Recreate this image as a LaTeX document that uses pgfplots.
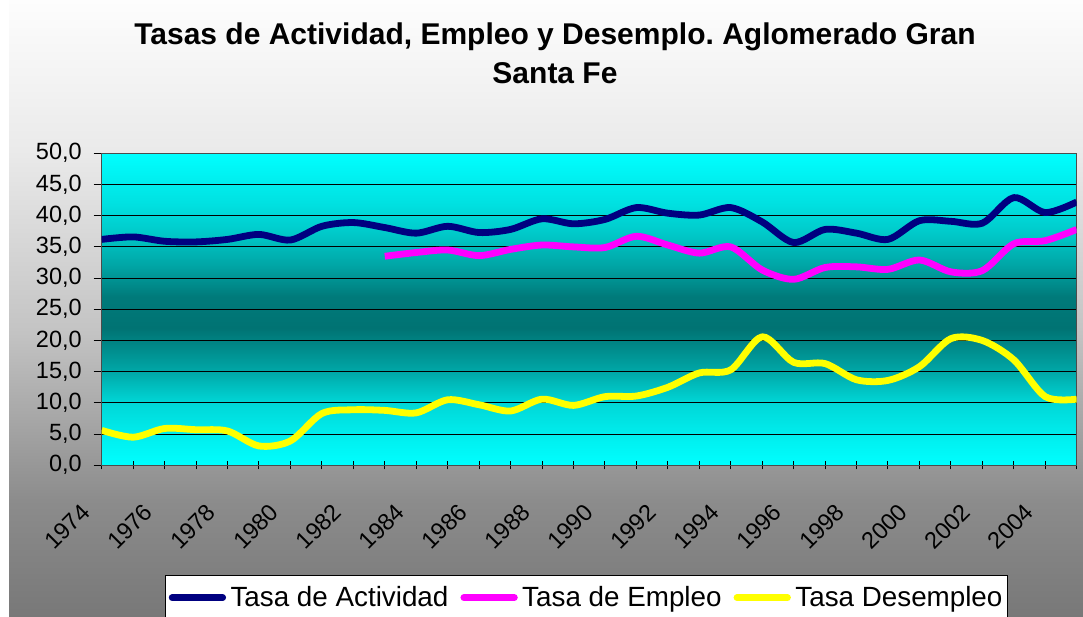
\documentclass[border=0pt]{standalone}
\usepackage{fontspec}
\setmainfont{Liberation Sans}
\usepackage{pgfplots}
\pgfplotsset{compat=1.18}
\frenchspacing
\definecolor{actcol}{RGB}{0,0,128}
\definecolor{empcol}{RGB}{255,0,255}
\definecolor{descol}{RGB}{255,255,0}
\definecolor{pb0}{RGB}{0,255,255}
\definecolor{pb5}{RGB}{0,237,237}
\definecolor{pb10}{RGB}{0,215,215}
\definecolor{pb15}{RGB}{0,168,168}
\definecolor{pb22}{RGB}{0,115,115}
\definecolor{pb27}{RGB}{0,122,122}
\definecolor{pb32}{RGB}{0,165,165}
\definecolor{pb37}{RGB}{0,200,200}
\definecolor{pb42}{RGB}{0,225,225}
\definecolor{pb50}{RGB}{0,255,255}
\pgfdeclareverticalshading{plotbg}{100bp}{color(0bp)=(pb0); color(25bp)=(pb0); color(30bp)=(pb5); color(35bp)=(pb10); color(40bp)=(pb15); color(47bp)=(pb22); color(52bp)=(pb27); color(57bp)=(pb32); color(62bp)=(pb37); color(67bp)=(pb42); color(75bp)=(pb50); color(100bp)=(pb50)}
\definecolor{fg0}{RGB}{120,120,120}
\definecolor{fg1}{RGB}{140,140,140}
\definecolor{fg2}{RGB}{196,196,196}
\definecolor{fg3}{RGB}{234,234,234}
\definecolor{fg4}{RGB}{253,253,253}
\pgfdeclareverticalshading{figbg}{100bp}{color(0bp)=(fg0); color(25bp)=(fg0); color(34.5bp)=(fg1); color(48.3bp)=(fg2); color(62.8bp)=(fg3); color(75bp)=(fg4); color(100bp)=(fg4)}
\begin{document}
\begin{tikzpicture}[x=1bp,y=1bp]
\useasboundingbox (0,0) rectangle (1083,617);
\fill[white] (0,0) rectangle (1083,617);
\shade[shading=figbg] (9,0) rectangle (1083,617);
\node[font=\fontsize{30bp}{36bp}\selectfont\bfseries, anchor=base, inner sep=0pt] at (555,572.7) {Tasas de Actividad, Empleo y Desemplo. Aglomerado Gran};
\node[font=\fontsize{30bp}{36bp}\selectfont\bfseries, anchor=base, inner sep=0pt] at (555,533.7) {Santa Fe};
\begin{axis}[
  scale only axis,
  width=975bp, height=312bp,
  at={(101.7bp,151.7bp)}, anchor=south west,
  xmin=1974, xmax=2005, ymin=0, ymax=50,
  xtick={1974,...,2005},
  xticklabels={1974,,1976,,1978,,1980,,1982,,1984,,1986,,1988,,1990,,1992,,1994,,1996,,1998,,2000,,2002,,2004,{}},
  ytick={0,5,...,50},
  ymajorgrids,
  grid style={black, line width=0.8bp},
  axis background/.style={shade, shading=plotbg},
  axis line style={draw=black!70, line width=1.5bp},
  tick pos=left,
  xtick align=center, ytick align=outside,
  major tick length=8bp,
  tick style={black, line width=0.9bp},
  /pgf/number format/fixed,
  /pgf/number format/fixed zerofill,
  /pgf/number format/precision=1,
  /pgf/number format/use comma,
  /pgf/number format/assume math mode=true,
  ticklabel style={font=\fontsize{23.5bp}{26bp}\selectfont},
  yticklabel style={xshift=-8.5bp},
  xticklabel style={xshift=-16bp, yshift=-38.7bp, rotate=45, anchor=east, inner sep=0bp},
  legend columns=3,
  legend style={at={(0.0652,-0.3526)}, anchor=north west, draw=black, line width=1bp, fill=white,
    font=\fontsize{27.8bp}{30bp}\selectfont, inner xsep=3bp, inner ysep=9bp,
    /tikz/every odd column/.append style={column sep=2.5bp},
    /tikz/every even column/.append style={column sep=10bp}},
  legend image code/.code={\draw[#1, line width=6.8bp, line cap=round] (0bp,0bp) -- (50.5bp,0bp);},
]
\addplot[actcol, line width=6.8bp, smooth, line join=round] coordinates {
(1974,36.2) (1975,36.6) (1976,35.9) (1977,35.8) (1978,36.2) (1979,37.0) (1980,36.1) (1981,38.3)
(1982,38.9) (1983,38.1) (1984,37.2) (1985,38.3) (1986,37.3) (1987,37.8) (1988,39.5) (1989,38.7)
(1990,39.4) (1991,41.3) (1992,40.4) (1993,40.1) (1994,41.3) (1995,39.0) (1996,35.7) (1997,37.8)
(1998,37.2) (1999,36.2) (2000,39.2) (2001,39.1) (2002,38.8) (2003,42.9) (2004,40.5) (2005,42.2)};
\addlegendentry{Tasa de Actividad}
\addplot[empcol, line width=6.8bp, smooth, line join=round] coordinates {
(1983,33.5) (1984,34.1) (1985,34.5) (1986,33.6) (1987,34.6) (1988,35.3) (1989,35.0)
(1990,34.9) (1991,36.7) (1992,35.3) (1993,34.0) (1994,35.0) (1995,31.3) (1996,29.8) (1997,31.7)
(1998,31.8) (1999,31.4) (2000,32.9) (2001,31.0) (2002,31.2) (2003,35.5) (2004,36.0) (2005,37.8)};
\addlegendentry{Tasa de Empleo}
\addplot[descol, line width=6.8bp, smooth, line join=round] coordinates {
(1974,5.6) (1975,4.5) (1976,5.9) (1977,5.7) (1978,5.5) (1979,3.1) (1980,3.9) (1981,8.3)
(1982,8.9) (1983,8.8) (1984,8.4) (1985,10.5) (1986,9.7) (1987,8.7) (1988,10.6) (1989,9.6)
(1990,11.0) (1991,11.1) (1992,12.5) (1993,14.8) (1994,15.3) (1995,20.6) (1996,16.5) (1997,16.3)
(1998,13.7) (1999,13.6) (2000,15.8) (2001,20.3) (2002,20.0) (2003,16.9) (2004,11.0) (2005,10.6)};
\addlegendentry{Tasa Desempleo\hspace{9bp}}
\end{axis}
\end{tikzpicture}
\end{document}
